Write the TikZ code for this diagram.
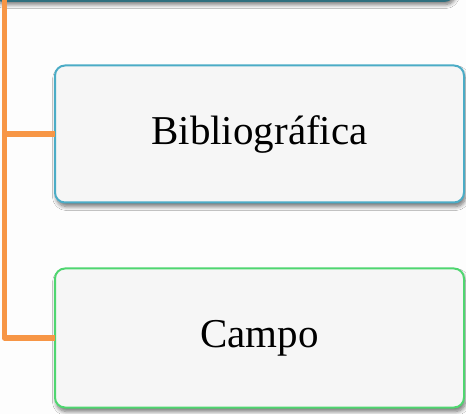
\documentclass[tikz,border=0pt]{standalone}
\usepackage{fontspec}
\setmainfont{Liberation Serif}
\usetikzlibrary{shadows.blur}
\definecolor{bgc}{HTML}{FDFDFD}
\definecolor{boxfill}{HTML}{F6F6F6}
\definecolor{topedge}{HTML}{2F6F7E}
\definecolor{aqua}{HTML}{4BACC6}
\definecolor{grn}{HTML}{4FD670}
\definecolor{orng}{HTML}{F79646}
\tikzset{
  cardbox/.style={draw, line width=2pt, rounded corners=10pt, fill=boxfill,
    minimum width=409pt, minimum height=137pt, inner sep=0pt, outer sep=0pt,
    font=\fontsize{41}{49}\selectfont,
    blur shadow={shadow xshift=1.5pt, shadow yshift=-4pt, shadow blur steps=8, shadow blur radius=4pt, shadow opacity=55}},
  linker/.style={draw=orng, line width=5.5pt, line join=round}
}
\begin{document}
\begin{tikzpicture}[x=1pt, y=-1pt]
\useasboundingbox (0,0) rectangle (466,414);
\fill[bgc] (0,0) rectangle (466,414);
\begin{scope}
\clip (0,0) rectangle (466,414);
\node[cardbox, draw=topedge, line width=3pt, minimum width=460pt, minimum height=137pt] (top) at (224,-68) {};
\node[cardbox, draw=aqua] (bib) at (259.5,134) {Bibliográfica};
\node[cardbox, draw=grn, minimum height=139pt] (campo) at (259.5,338) {Campo};
\coordinate (vx) at (4.5,0);
\draw[linker] (top.south -| vx) |- (bib.west);
\draw[linker] (top.south -| vx) |- (campo.west);
\end{scope}
\end{tikzpicture}
\end{document}
